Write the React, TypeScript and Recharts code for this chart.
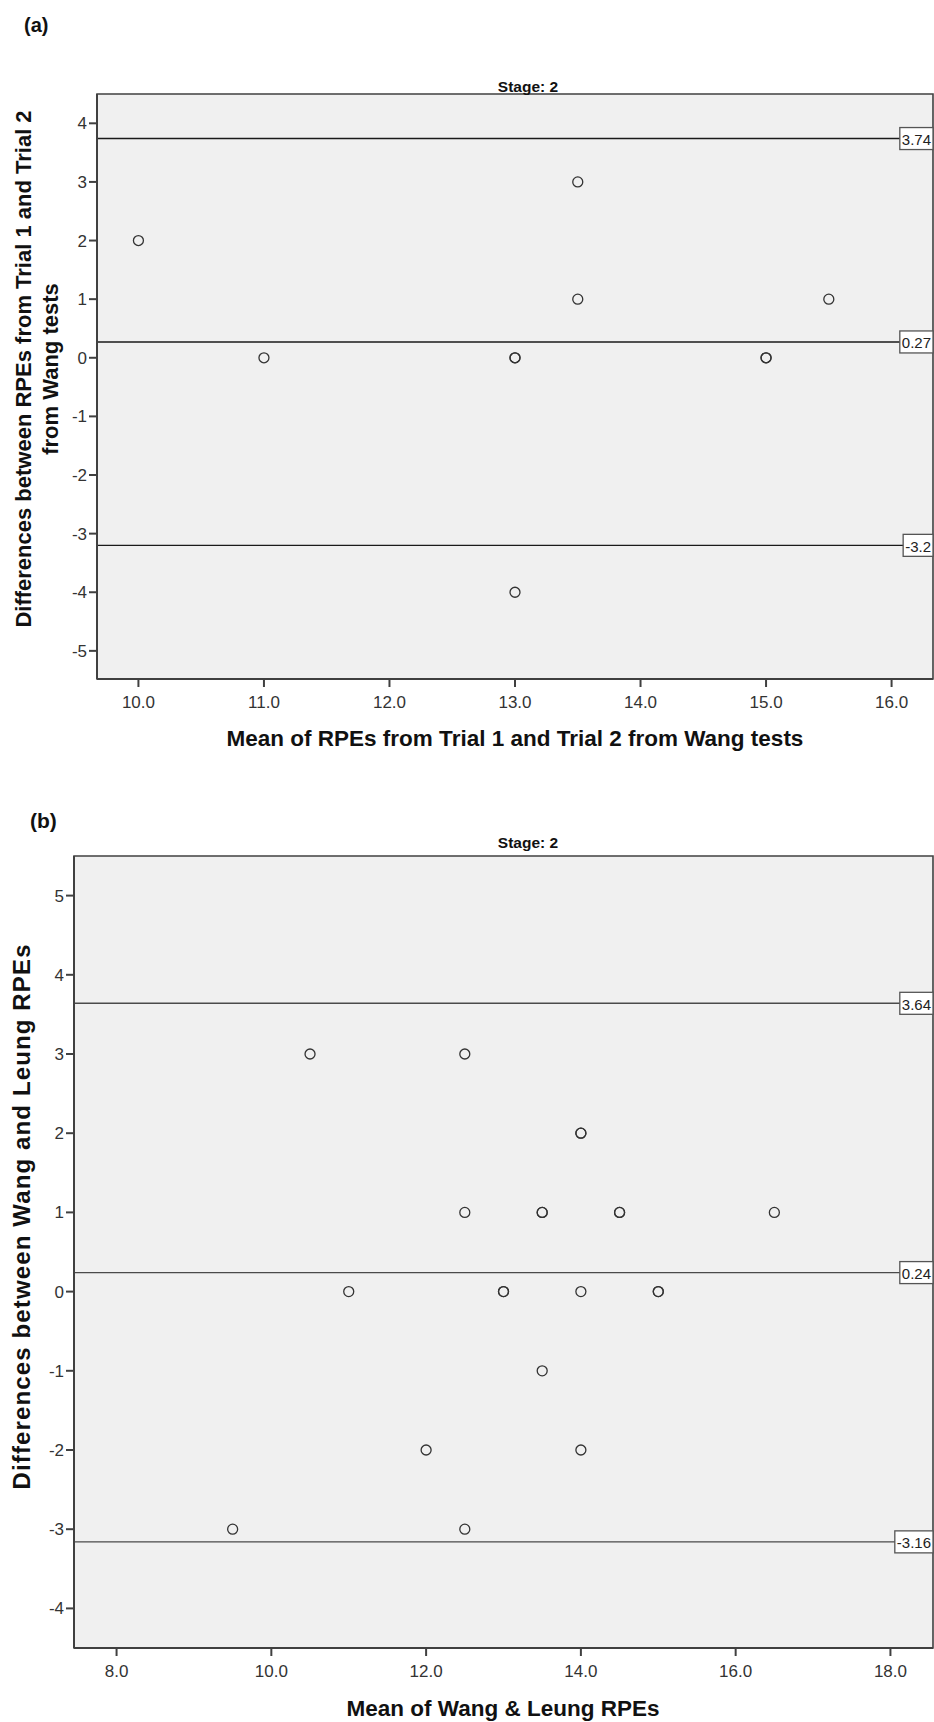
import React from 'react';
import { ScatterChart, Scatter, XAxis, YAxis, ReferenceLine, ReferenceArea } from 'recharts';

// ---------- Panel (a) data ----------
const aMeans = [10.0, 11.0, 13.0, 13.0, 13.0, 13.5, 13.5, 15.0, 15.0, 15.5];
const aDiffs = [2, 0, 0, 0, -4, 3, 1, 0, 0, 1];
const aLimits = [3.74, 0.27, -3.2];
const aLimitLabels = ['3.74', '0.27', '-3.2'];
const aXTicks = [10, 11, 12, 13, 14, 15, 16];
const aYTicks = [-5, -4, -3, -2, -1, 0, 1, 2, 3, 4];
const aXDomain = [9.67, 16.33];
const aYDomain = [-5.48, 4.5];

// ---------- Panel (b) data ----------
const bMeans = [9.5, 10.5, 11.0, 12.0, 12.5, 12.5, 12.5, 13.0, 13.0, 13.5, 13.5, 13.5, 14.0, 14.0, 14.0, 14.0, 14.5, 14.5, 15.0, 15.0, 16.5];
const bDiffs = [-3, 3, 0, -2, 3, 1, -3, 0, 0, 1, 1, -1, 2, 2, 0, -2, 1, 1, 0, 0, 1];
const bLimits = [3.64, 0.24, -3.16];
const bLimitLabels = ['3.64', '0.24', '-3.16'];
const bXTicks = [8, 10, 12, 14, 16, 18];
const bYTicks = [-4, -3, -2, -1, 0, 1, 2, 3, 4, 5];
const bXDomain = [7.45, 18.55];
const bYDomain = [-4.5, 5.5];

const FONT = '"Liberation Sans", Arial, sans-serif';
const AXIS_COLOR = '#404040';

const charW = (c: string) => (c === '.' ? 0.278 : c === '-' ? 0.333 : 0.556);

const RefLabel = (props: any) => {
  const { viewBox, text } = props;
  if (!viewBox) return null;
  const fs = 15;
  const tw = text.split('').reduce((s: number, c: string) => s + charW(c), 0) * fs;
  const w = tw + 4;
  const right = viewBox.x + viewBox.width;
  const y = viewBox.y;
  return (
    <g>
      <rect x={right - w} y={y - 11} width={w} height={22} fill="#ffffff" stroke="#555" strokeWidth={1.3} />
      <text x={right - w + 2} y={y + 1} fontSize={fs} fontFamily={FONT} fill="#222" dominantBaseline="central">
        {text}
      </text>
    </g>
  );
};

const Ring = (props: any) => {
  const { cx, cy } = props;
  if (cx == null || cy == null) return null;
  return <circle cx={cx} cy={cy} r={5} fill="none" stroke="#333" strokeWidth={1.3} />;
};

const tickStyle = { fontSize: 17, fontFamily: FONT, fill: '#333' };

function Panel(props: {
  means: number[];
  diffs: number[];
  limits: number[];
  limitLabels: string[];
  xTicks: number[];
  yTicks: number[];
  xDomain: number[];
  yDomain: number[];
  width: number;
  height: number;
  top: number;
  yAxisWidth: number;
  xAxisHeight: number;
  lineColor: string;
}) {
  const data = props.means.map((m, i) => ({ x: m, y: props.diffs[i] }));
  return (
    <ScatterChart
      width={props.width}
      height={props.height}
      margin={{ top: props.top, right: 1, left: 0, bottom: 0 }}
    >
      <ReferenceArea
        x1={props.xDomain[0]}
        x2={props.xDomain[1]}
        y1={props.yDomain[0]}
        y2={props.yDomain[1]}
        fill="#f0f0f0"
        fillOpacity={1}
        stroke={AXIS_COLOR}
        strokeWidth={1.6}
        ifOverflow="visible"
      />
      <XAxis
        type="number"
        dataKey="x"
        domain={props.xDomain}
        ticks={props.xTicks}
        allowDataOverflow
        height={props.xAxisHeight}
        tickFormatter={(v: number) => v.toFixed(1)}
        tick={tickStyle}
        tickSize={8}
        tickMargin={9}
        axisLine={{ stroke: AXIS_COLOR, strokeWidth: 2 }}
        tickLine={{ stroke: AXIS_COLOR, strokeWidth: 2 }}
        interval={0}
      />
      <YAxis
        type="number"
        dataKey="y"
        domain={props.yDomain}
        ticks={props.yTicks}
        allowDataOverflow
        width={props.yAxisWidth}
        tick={tickStyle}
        tickSize={8}
        tickMargin={2}
        axisLine={{ stroke: AXIS_COLOR, strokeWidth: 2 }}
        tickLine={{ stroke: AXIS_COLOR, strokeWidth: 2 }}
        interval={0}
      />
      {props.limits.map((v, i) => (
        <ReferenceLine
          key={i}
          y={v}
          stroke={props.lineColor}
          strokeWidth={1.4}
          label={<RefLabel text={props.limitLabels[i]} />}
        />
      ))}
      <Scatter data={data} shape={<Ring />} isAnimationActive={false} />
    </ScatterChart>
  );
}

export default function App() {
  return (
    <div style={{ position: 'absolute', left: 0, top: 0, width: 934, height: 1722, background: '#fff' }}>
      {/* Panel (a) */}
      <div style={{ position: 'absolute', left: 0, top: 0 }}>
        <Panel
          means={aMeans}
          diffs={aDiffs}
          limits={aLimits}
          limitLabels={aLimitLabels}
          xTicks={aXTicks}
          yTicks={aYTicks}
          xDomain={aXDomain}
          yDomain={aYDomain}
          width={934}
          height={760}
          top={94}
          yAxisWidth={97}
          xAxisHeight={81}
          lineColor="#1a1a1a"
        />
      </div>
      {/* Panel (b) */}
      <div style={{ position: 'absolute', left: 0, top: 780 }}>
        <Panel
          means={bMeans}
          diffs={bDiffs}
          limits={bLimits}
          limitLabels={bLimitLabels}
          xTicks={bXTicks}
          yTicks={bYTicks}
          xDomain={bXDomain}
          yDomain={bYDomain}
          width={934}
          height={942}
          top={76}
          yAxisWidth={74}
          xAxisHeight={74}
          lineColor="#4a4a4a"
        />
      </div>
      {/* Titles and axis labels */}
      <svg
        width={934}
        height={1722}
        style={{ position: 'absolute', left: 0, top: 0, pointerEvents: 'none' }}
        fontFamily={FONT}
      >
        <text x={24} y={25} fontSize={20} fontWeight="bold" dominantBaseline="central" fill="#111">(a)</text>
        <text x={528} y={86} fontSize={15.5} fontWeight="bold" textAnchor="middle" dominantBaseline="central" fill="#111">Stage: 2</text>
        <text
          transform="translate(23,369) rotate(-90)"
          fontSize={22}
          fontWeight="bold"
          textAnchor="middle"
          dominantBaseline="central"
          fill="#111"
        >
          Differences between RPEs from Trial 1 and Trial 2
        </text>
        <text
          transform="translate(50,369) rotate(-90)"
          fontSize={22}
          fontWeight="bold"
          textAnchor="middle"
          dominantBaseline="central"
          fill="#111"
        >
          from Wang tests
        </text>
        <text x={515} y={738} fontSize={22.5} fontWeight="bold" textAnchor="middle" dominantBaseline="central" fill="#111">
          Mean of RPEs from Trial 1 and Trial 2 from Wang tests
        </text>

        <text x={30} y={820} fontSize={21} fontWeight="bold" dominantBaseline="central" fill="#111">(b)</text>
        <text x={528} y={842} fontSize={15.5} fontWeight="bold" textAnchor="middle" dominantBaseline="central" fill="#111">Stage: 2</text>
        <text
          transform="translate(21,1217) rotate(-90)"
          fontSize={24}
          fontWeight="bold"
          textAnchor="middle"
          dominantBaseline="central"
          fill="#111"
          textLength={545}
          lengthAdjust="spacing"
        >
          Differences between Wang and Leung RPEs
        </text>
        <text x={503} y={1708} fontSize={22.5} fontWeight="bold" textAnchor="middle" dominantBaseline="central" fill="#111">
          Mean of Wang &amp; Leung RPEs
        </text>
      </svg>
    </div>
  );
}
